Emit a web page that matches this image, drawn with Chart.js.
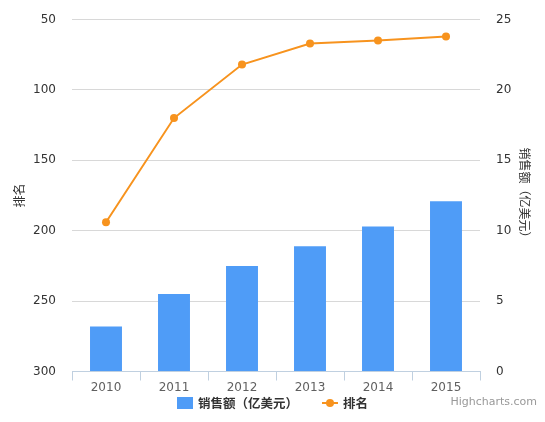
<!DOCTYPE html>
<html>
<head>
<meta charset="utf-8">
<title>销售额与排名</title>
<script src="https://cdn.jsdelivr.net/npm/chart.js@4/dist/chart.umd.min.js"></script>
<style>
    html, body { margin: 0; padding: 0; background: #fff; }
    #grafico { display: block; }
</style>
</head>
<body>
<canvas id="grafico" width="545" height="422"></canvas>
<script>
const years = ["2010", "2011", "2012", "2013", "2014", "2015"];
const sales = [3.2, 5.5, 7.5, 8.9, 10.3, 12.1];
const ranks = [194, 120, 82, 67, 65, 62];
const rankTicks = [50, 100, 150, 200, 250, 300];
const salesTicks = [0, 5, 10, 15, 20, 25];
const salesName = "销售额（亿美元）";
const rankName = "排名";
const credit = "Highcharts.com";

const barColor = "#4f9cf7";
const lineColor = "#f7931e";
const font = "'DejaVu Sans', 'Noto Sans CJK SC', sans-serif";
const cjkFont = "'Noto Sans CJK SC', sans-serif";

// legend + credit drawn at the bottom, like the original
const bottomLegend = {
    id: "bottomLegend",
    afterDraw(chart) {
        const ctx = chart.ctx;
        ctx.save();
        ctx.font = "bold 12.5px " + cjkFont;
        const symbol = 16, gap = 5, distance = 24;
        const w1 = ctx.measureText(salesName).width;
        const w2 = ctx.measureText(rankName).width;
        const total = symbol + gap + w1 + distance + symbol + gap + w2;
        let x = (chart.width - total) / 2;
        const y = 403;

        ctx.fillStyle = barColor;
        ctx.fillRect(x, y - 6, symbol, 12);
        ctx.fillStyle = "#333333";
        ctx.textBaseline = "middle";
        ctx.fillText(salesName, x + symbol + gap, y);

        x += symbol + gap + w1 + distance;
        ctx.strokeStyle = lineColor;
        ctx.lineWidth = 2;
        ctx.beginPath();
        ctx.moveTo(x, y);
        ctx.lineTo(x + symbol, y);
        ctx.stroke();
        ctx.fillStyle = lineColor;
        ctx.beginPath();
        ctx.arc(x + symbol / 2, y, 4, 0, Math.PI * 2);
        ctx.fill();
        ctx.fillStyle = "#333333";
        ctx.fillText(rankName, x + symbol + gap, y);

        ctx.font = "11px " + font;
        ctx.fillStyle = "#999999";
        ctx.textAlign = "right";
        ctx.textBaseline = "alphabetic";
        ctx.fillText(credit, chart.width - 8, 405);
        ctx.restore();
    }
};

// fixed axis sizes, no extra padding from the tick labels
function fixWidth(w) {
    return s => {
        s.width = w;
        s.paddingTop = 0;
        s.paddingBottom = 0;
    };
}

const ctx = document.getElementById("grafico").getContext("2d");
const chart = new Chart(ctx, {
    data: {
        labels: years,
        datasets: [{
            type: "bar",
            label: salesName,
            data: sales,
            yAxisID: "y1",
            backgroundColor: barColor,
            borderWidth: 0,
            barPercentage: 1,
            categoryPercentage: 0.47,
            order: 2
        }, {
            type: "line",
            label: rankName,
            data: ranks,
            yAxisID: "y",
            borderColor: lineColor,
            backgroundColor: lineColor,
            borderWidth: 2,
            pointRadius: 4,
            pointBorderWidth: 0,
            pointBackgroundColor: lineColor,
            tension: 0,
            fill: false,
            order: 1
        }]
    },
    options: {
        responsive: false,
        animation: false,
        layout: { padding: { top: 19.5, left: 0, right: 0, bottom: 0 } },
        plugins: {
            legend: { display: false },
            tooltip: { enabled: false }
        },
        scales: {
            x: {
                grid: {
                    offset: true,
                    drawOnChartArea: false,
                    drawTicks: true,
                    tickLength: 9,
                    color: "#c0d0e0"
                },
                border: { color: "#c0d0e0", width: 1 },
                ticks: { color: "#606060", font: { family: font, size: 12 }, padding: 0 },
                afterFit: s => { s.height = 50.5; }
            },
            y: {
                position: "left",
                reverse: true,
                min: rankTicks[0],
                max: rankTicks[rankTicks.length - 1],
                afterBuildTicks: s => { s.ticks = rankTicks.map(v => ({ value: v })); },
                grid: { color: "#d8d8d8", drawTicks: false },
                border: { display: false },
                ticks: { color: "#333333", font: { family: font, size: 12 }, padding: 16 },
                title: {
                    display: true,
                    text: rankName,
                    color: "#333333",
                    font: { family: cjkFont, size: 12 },
                    padding: { top: 12, bottom: 0 }
                },
                afterFit: fixWidth(72)
            },
            y1: {
                position: "right",
                min: salesTicks[0],
                max: salesTicks[salesTicks.length - 1],
                afterBuildTicks: s => { s.ticks = salesTicks.map(v => ({ value: v })); },
                grid: { drawOnChartArea: false, drawTicks: false },
                border: { display: false },
                ticks: { color: "#333333", font: { family: font, size: 12 }, padding: 16 },
                title: {
                    display: true,
                    text: salesName,
                    color: "#333333",
                    font: { family: cjkFont, size: 12 },
                    padding: { top: 13, bottom: 0 }
                },
                afterFit: fixWidth(65)
            }
        }
    },
    plugins: [bottomLegend]
});
</script>
</body>
</html>
